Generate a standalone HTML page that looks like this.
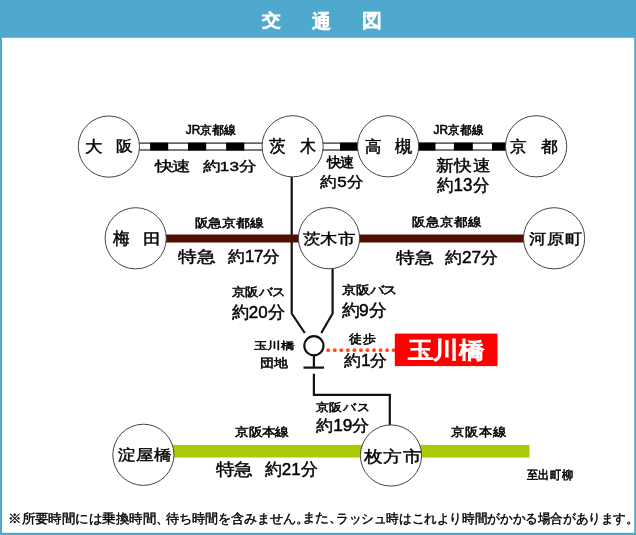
<!DOCTYPE html>
<html><head><meta charset="utf-8"><style>
html,body{margin:0;padding:0;background:#fff;width:636px;height:535px;overflow:hidden}
svg{display:block;font-family:"Liberation Sans",sans-serif;will-change:transform}
</style></head><body>
<svg width="636" height="535" viewBox="0 0 636 535">
<rect x="0" y="0" width="636" height="37.8" fill="#4fa9cd"/>
<rect x="0" y="0" width="2" height="535" fill="#4fa9cd"/>
<rect x="634.2" y="0" width="1.8" height="535" fill="#4fa9cd"/>
<rect x="0" y="532.8" width="636" height="2.2" fill="#4fa9cd"/>
<path d="M291.7 170 V313.5 L304.8 333" fill="none" stroke="#111" stroke-width="2.2"/>
<path d="M332.6 262 V313.5 L321.3 333" fill="none" stroke="#111" stroke-width="2.2"/>
<rect x="135" y="143.1" width="130" height="6.9" fill="#fff" stroke="#222" stroke-width="1.2"/>
<rect x="150.1" y="142.7" width="18.099999999999994" height="7.8" fill="#000"/>
<rect x="188" y="142.7" width="18.19999999999999" height="7.8" fill="#000"/>
<rect x="226.1" y="142.7" width="18.200000000000017" height="7.8" fill="#000"/>
<rect x="320" y="143.1" width="42" height="6.9" fill="#fff" stroke="#222" stroke-width="1.2"/>
<rect x="340" y="142.7" width="22" height="7.8" fill="#000"/>
<rect x="415" y="143.1" width="95" height="6.9" fill="#fff" stroke="#222" stroke-width="1.2"/>
<rect x="415" y="142.7" width="20.5" height="7.8" fill="#000"/>
<rect x="453.9" y="142.7" width="18.900000000000034" height="7.8" fill="#000"/>
<rect x="492" y="142.7" width="18" height="7.8" fill="#000"/>
<rect x="160" y="234.5" width="370" height="8" fill="#4f0f02"/>
<rect x="170" y="444.9" width="359.5" height="12.6" fill="#a9cb05"/>
<path d="M313.9 355 V367.6 M313.9 373.8 V394.8 H389.8 V430" fill="none" stroke="#111" stroke-width="2.2"/>
<path d="M303.5 367.6 H324" fill="none" stroke="#111" stroke-width="2.2"/>
<circle cx="313.9" cy="345.7" r="9.6" fill="#fff" stroke="#111" stroke-width="2.1"/>
<circle cx="328.20" cy="350.2" r="1.9" fill="#ff4a1c"/>
<circle cx="334.74" cy="350.2" r="1.9" fill="#ff4a1c"/>
<circle cx="341.28" cy="350.2" r="1.9" fill="#ff4a1c"/>
<circle cx="347.82" cy="350.2" r="1.9" fill="#ff4a1c"/>
<circle cx="354.36" cy="350.2" r="1.9" fill="#ff4a1c"/>
<circle cx="360.90" cy="350.2" r="1.9" fill="#ff4a1c"/>
<circle cx="367.44" cy="350.2" r="1.9" fill="#ff4a1c"/>
<circle cx="373.98" cy="350.2" r="1.9" fill="#ff4a1c"/>
<circle cx="380.52" cy="350.2" r="1.9" fill="#ff4a1c"/>
<circle cx="387.06" cy="350.2" r="1.9" fill="#ff4a1c"/>
<circle cx="393.60" cy="350.2" r="1.9" fill="#ff4a1c"/>
<rect x="394.8" y="333.6" width="102.7" height="32.5" fill="#ff0000"/>
<circle cx="108.9" cy="146.6" r="30.6" fill="#fff" stroke="#444" stroke-width="1"/>
<circle cx="292.6" cy="146.3" r="30.6" fill="#fff" stroke="#444" stroke-width="1"/>
<circle cx="388.1" cy="146.3" r="30.6" fill="#fff" stroke="#444" stroke-width="1"/>
<circle cx="536.1" cy="146.3" r="30.6" fill="#fff" stroke="#444" stroke-width="1"/>
<circle cx="135.7" cy="238.3" r="30.6" fill="#fff" stroke="#444" stroke-width="1"/>
<circle cx="329" cy="238.2" r="30.6" fill="#fff" stroke="#444" stroke-width="1"/>
<circle cx="554.1" cy="238.3" r="30.6" fill="#fff" stroke="#444" stroke-width="1"/>
<circle cx="143.4" cy="454.8" r="30.6" fill="#fff" stroke="#444" stroke-width="1"/>
<circle cx="391" cy="455.5" r="30.6" fill="#fff" stroke="#444" stroke-width="1"/>
<text x="0" y="100" textLength="40.00" lengthAdjust="spacing" transform="matrix(0.48312 0 0 0.43583 261.639 -17.120)" font-size="40" font-weight="normal" fill="#fff" stroke="#fff" stroke-width="2.612">交</text>
<text x="0" y="100" textLength="40.00" lengthAdjust="spacing" transform="matrix(0.46620 0 0 0.46416 311.611 -18.799)" font-size="40" font-weight="normal" fill="#fff" stroke="#fff" stroke-width="2.580">通</text>
<text x="0" y="100" textLength="40.00" lengthAdjust="spacing" transform="matrix(0.48907 0 0 0.46543 361.853 -19.660)" font-size="40" font-weight="normal" fill="#fff" stroke="#fff" stroke-width="2.514">図</text>
<text x="0" y="100" textLength="40.00" lengthAdjust="spacing" transform="matrix(0.44675 0 0 0.40798 84.535 111.673)" font-size="40" font-weight="normal" fill="#000" stroke="#000" stroke-width="1.053">大</text>
<text x="0" y="100" textLength="40.00" lengthAdjust="spacing" transform="matrix(0.43122 0 0 0.38415 115.880 112.821)" font-size="40" font-weight="normal" fill="#000" stroke="#000" stroke-width="1.104">阪</text>
<text x="0" y="100" textLength="168.89" lengthAdjust="spacing" transform="matrix(0.29772 0 0 0.30196 185.789 103.556)" font-size="40" font-weight="normal" fill="#000" stroke="#000" stroke-width="1.834">JR京都線</text>
<text x="0" y="100" textLength="80.00" lengthAdjust="spacing" transform="matrix(0.44601 0 0 0.33736 154.756 137.216)" font-size="40" font-weight="normal" fill="#000" stroke="#000" stroke-width="1.149">快速</text>
<text x="0" y="100" textLength="124.50" lengthAdjust="spacing" transform="matrix(0.42758 0 0 0.34101 202.729 136.662)" font-size="40" font-weight="normal" fill="#000" stroke="#000" stroke-width="1.171">約13分</text>
<text x="0" y="100" textLength="40.00" lengthAdjust="spacing" transform="matrix(0.41258 0 0 0.42147 269.333 110.148)" font-size="40" font-weight="normal" fill="#000" stroke="#000" stroke-width="1.079">茨</text>
<text x="0" y="100" textLength="40.00" lengthAdjust="spacing" transform="matrix(0.40138 0 0 0.42548 299.770 109.926)" font-size="40" font-weight="normal" fill="#000" stroke="#000" stroke-width="1.088">木</text>
<text x="0" y="100" textLength="80.00" lengthAdjust="spacing" transform="matrix(0.34449 0 0 0.34053 326.980 133.302)" font-size="40" font-weight="normal" fill="#000" stroke="#000" stroke-width="1.606">快速</text>
<text x="0" y="100" textLength="102.25" lengthAdjust="spacing" transform="matrix(0.42226 0 0 0.38333 320.309 149.146)" font-size="40" font-weight="normal" fill="#000" stroke="#000" stroke-width="1.117">約5分</text>
<text x="0" y="100" textLength="40.00" lengthAdjust="spacing" transform="matrix(0.41783 0 0 0.40777 365.011 111.667)" font-size="40" font-weight="normal" fill="#000" stroke="#000" stroke-width="1.090">高</text>
<text x="0" y="100" textLength="40.00" lengthAdjust="spacing" transform="matrix(0.43249 0 0 0.42525 395.310 109.558)" font-size="40" font-weight="normal" fill="#000" stroke="#000" stroke-width="1.049">槻</text>
<text x="0" y="100" textLength="168.89" lengthAdjust="spacing" transform="matrix(0.29610 0 0 0.30724 433.595 103.185)" font-size="40" font-weight="normal" fill="#000" stroke="#000" stroke-width="1.823">JR京都線</text>
<text x="0" y="100" textLength="120.00" lengthAdjust="spacing" transform="matrix(0.45331 0 0 0.41051 436.206 129.901)" font-size="40" font-weight="normal" fill="#000" stroke="#000" stroke-width="1.042">新快速</text>
<text x="0" y="100" textLength="124.50" lengthAdjust="spacing" transform="matrix(0.42393 0 0 0.43731 436.513 147.180)" font-size="40" font-weight="normal" fill="#000" stroke="#000" stroke-width="1.045">約13分</text>
<text x="0" y="100" textLength="40.00" lengthAdjust="spacing" transform="matrix(0.42649 0 0 0.41002 510.190 111.312)" font-size="40" font-weight="normal" fill="#000" stroke="#000" stroke-width="1.076">京</text>
<text x="0" y="100" textLength="40.00" lengthAdjust="spacing" transform="matrix(0.42786 0 0 0.41166 540.622 110.930)" font-size="40" font-weight="normal" fill="#000" stroke="#000" stroke-width="1.072">都</text>
<text x="0" y="100" textLength="40.00" lengthAdjust="spacing" transform="matrix(0.42474 0 0 0.43702 112.861 200.165)" font-size="40" font-weight="normal" fill="#000" stroke="#000" stroke-width="1.044">梅</text>
<text x="0" y="100" textLength="40.00" lengthAdjust="spacing" transform="matrix(0.44882 0 0 0.37452 142.745 207.047)" font-size="40" font-weight="normal" fill="#000" stroke="#000" stroke-width="1.093">田</text>
<text x="0" y="100" textLength="200.00" lengthAdjust="spacing" transform="matrix(0.34712 0 0 0.30219 194.522 196.847)" font-size="40" font-weight="normal" fill="#000" stroke="#000" stroke-width="1.694">阪急京都線</text>
<text x="0" y="100" textLength="80.00" lengthAdjust="spacing" transform="matrix(0.47245 0 0 0.40255 178.210 222.116)" font-size="40" font-weight="normal" fill="#000" stroke="#000" stroke-width="1.029">特急</text>
<text x="0" y="100" textLength="124.50" lengthAdjust="spacing" transform="matrix(0.42242 0 0 0.40635 227.838 221.612)" font-size="40" font-weight="normal" fill="#000" stroke="#000" stroke-width="1.086">約17分</text>
<text x="0" y="100" textLength="120.00" lengthAdjust="spacing" transform="matrix(0.45024 0 0 0.38640 302.563 204.900)" font-size="40" font-weight="normal" fill="#000" stroke="#000" stroke-width="1.076">茨木市</text>
<text x="0" y="100" textLength="200.00" lengthAdjust="spacing" transform="matrix(0.34542 0 0 0.30869 412.450 194.858)" font-size="40" font-weight="normal" fill="#000" stroke="#000" stroke-width="1.682">阪急京都線</text>
<text x="0" y="100" textLength="80.00" lengthAdjust="spacing" transform="matrix(0.46422 0 0 0.39335 396.352 223.991)" font-size="40" font-weight="normal" fill="#000" stroke="#000" stroke-width="1.049">特急</text>
<text x="0" y="100" textLength="124.50" lengthAdjust="spacing" transform="matrix(0.43096 0 0 0.41177 444.657 221.804)" font-size="40" font-weight="normal" fill="#000" stroke="#000" stroke-width="1.068">約27分</text>
<text x="0" y="100" textLength="120.00" lengthAdjust="spacing" transform="matrix(0.43800 0 0 0.38469 529.091 205.767)" font-size="40" font-weight="normal" fill="#000" stroke="#000" stroke-width="1.094">河原町</text>
<text x="0" y="100" textLength="162.00" lengthAdjust="spacing" transform="matrix(0.33669 0 0 0.29955 231.508 266.088)" font-size="40" font-weight="normal" fill="#000" stroke="#000" stroke-width="1.729">京阪バス</text>
<text x="0" y="100" textLength="124.50" lengthAdjust="spacing" transform="matrix(0.42366 0 0 0.41915 231.870 276.128)" font-size="40" font-weight="normal" fill="#000" stroke="#000" stroke-width="1.068">約20分</text>
<text x="0" y="100" textLength="162.00" lengthAdjust="spacing" transform="matrix(0.34330 0 0 0.28947 341.942 265.264)" font-size="40" font-weight="normal" fill="#000" stroke="#000" stroke-width="1.738">京阪バス</text>
<text x="0" y="100" textLength="102.25" lengthAdjust="spacing" transform="matrix(0.43534 0 0 0.41652 341.546 274.161)" font-size="40" font-weight="normal" fill="#000" stroke="#000" stroke-width="1.057">約9分</text>
<text x="0" y="100" textLength="120.00" lengthAdjust="spacing" transform="matrix(0.34751 0 0 0.25270 253.511 323.242)" font-size="40" font-weight="normal" fill="#000" stroke="#000" stroke-width="1.833">玉川橋</text>
<text x="0" y="100" textLength="80.00" lengthAdjust="spacing" transform="matrix(0.33997 0 0 0.29110 260.431 338.114)" font-size="40" font-weight="normal" fill="#000" stroke="#000" stroke-width="1.743">団地</text>
<text x="0" y="100" textLength="80.00" lengthAdjust="spacing" transform="matrix(0.33541 0 0 0.31176 349.441 312.142)" font-size="40" font-weight="normal" fill="#000" stroke="#000" stroke-width="1.700">徒歩</text>
<text x="0" y="100" textLength="102.25" lengthAdjust="spacing" transform="matrix(0.43201 0 0 0.40851 343.732 325.035)" font-size="40" font-weight="normal" fill="#000" stroke="#000" stroke-width="1.071">約1分</text>
<text x="0" y="100" textLength="120.00" lengthAdjust="spacing" transform="matrix(0.63220 0 0 0.56941 408.177 301.028)" font-size="40" font-weight="normal" fill="#fff" stroke="#fff" stroke-width="2.164">玉川橋</text>
<text x="0" y="100" textLength="160.00" lengthAdjust="spacing" transform="matrix(0.33745 0 0 0.29303 235.320 406.422)" font-size="40" font-weight="normal" fill="#000" stroke="#000" stroke-width="1.745">京阪本線</text>
<text x="0" y="100" textLength="80.00" lengthAdjust="spacing" transform="matrix(0.45612 0 0 0.41264 215.816 433.882)" font-size="40" font-weight="normal" fill="#000" stroke="#000" stroke-width="1.036">特急</text>
<text x="0" y="100" textLength="124.50" lengthAdjust="spacing" transform="matrix(0.42341 0 0 0.42521 264.826 432.462)" font-size="40" font-weight="normal" fill="#000" stroke="#000" stroke-width="1.061">約21分</text>
<text x="0" y="100" textLength="120.00" lengthAdjust="spacing" transform="matrix(0.44421 0 0 0.37674 118.027 422.254)" font-size="40" font-weight="normal" fill="#000" stroke="#000" stroke-width="1.096">淀屋橋</text>
<text x="0" y="100" textLength="162.00" lengthAdjust="spacing" transform="matrix(0.33208 0 0 0.28109 315.713 383.188)" font-size="40" font-weight="normal" fill="#000" stroke="#000" stroke-width="1.794">京阪バス</text>
<text x="0" y="100" textLength="124.50" lengthAdjust="spacing" transform="matrix(0.43218 0 0 0.40536 315.900 390.625)" font-size="40" font-weight="normal" fill="#000" stroke="#000" stroke-width="1.075">約19分</text>
<text x="0" y="100" textLength="120.00" lengthAdjust="spacing" transform="matrix(0.47935 0 0 0.40866 364.387 421.609)" font-size="40" font-weight="normal" fill="#000" stroke="#000" stroke-width="1.013">枚方市</text>
<text x="0" y="100" textLength="160.00" lengthAdjust="spacing" transform="matrix(0.34556 0 0 0.31176 450.985 404.814)" font-size="40" font-weight="normal" fill="#000" stroke="#000" stroke-width="1.673">京阪本線</text>
<text x="0" y="100" textLength="160.00" lengthAdjust="spacing" transform="matrix(0.29201 0 0 0.31252 526.534 447.660)" font-size="40" font-weight="normal" fill="#000" stroke="#000" stroke-width="1.820">至出町柳</text>
<text x="0" y="100" textLength="482.00" lengthAdjust="spacing" transform="matrix(0.33445 0 0 0.32271 8.152 490.449)" font-size="40" font-weight="normal" fill="#000" stroke="#000" stroke-width="1.217">※所要時間には乗換時間、</text>
<text x="0" y="100" textLength="446.00" lengthAdjust="spacing" transform="matrix(0.32087 0 0 0.31878 165.950 490.724)" font-size="40" font-weight="normal" fill="#000" stroke="#000" stroke-width="1.251">待ち時間を含みません。</text>
<text x="0" y="100" textLength="122.00" lengthAdjust="spacing" transform="matrix(0.33351 0 0 0.31332 301.552 491.085)" font-size="40" font-weight="normal" fill="#000" stroke="#000" stroke-width="1.237">また、</text>
<text x="0" y="100" textLength="978.00" lengthAdjust="spacing" transform="matrix(0.30954 0 0 0.31873 336.055 490.730)" font-size="40" font-weight="normal" fill="#000" stroke="#000" stroke-width="1.273">ラッシュ時はこれより時間がかかる場合があります。</text>
</svg>
</body></html>
